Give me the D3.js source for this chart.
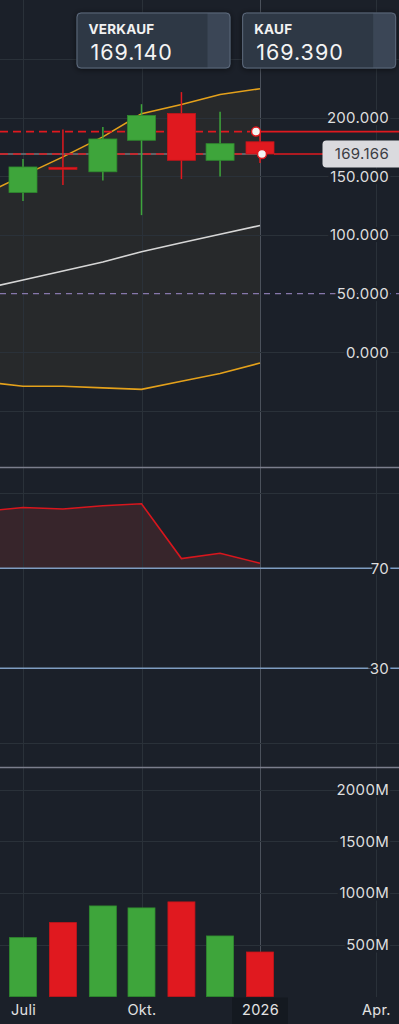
<!DOCTYPE html>
<html>
<head>
<meta charset="utf-8">
<script src="https://cdn.jsdelivr.net/npm/d3@7"></script>
<style>
html, body { margin: 0; padding: 0; background: #1b2029; }
svg { display: block; font-family: Inter, "Noto Sans", sans-serif; }
</style>
</head>
<body>
<svg id="chart" width="399" height="1024"></svg>
<script>
//monthly candles
var months  = ["2025-07-01", "2025-08-01", "2025-09-01", "2025-10-01", "2025-11-01", "2025-12-01", "2026-01-01"];
var opens   = [136.4, 157.8, 154.0, 180.9, 203.7, 163.8, 179.6];
var highs   = [165.0, 190.0, 192.3, 211.7, 222.0, 205.2, 188.3];
var lows    = [129.0, 142.7, 146.6, 117.0, 147.8, 150.0, 161.5];
var closes  = [158.1, 156.6, 182.0, 202.0, 163.8, 178.0, 169.166];
var volumes = [569, 714, 875, 856, 914, 585, 430]; //in M

//bollinger bands + rsi, june is only there for the left edge
var lineMonths = ["2025-06-01", "2025-07-01", "2025-08-01", "2025-09-01", "2025-10-01", "2025-11-01", "2025-12-01", "2026-01-01"];
var bandUpper  = [135.1, 150.7, 166.7, 183.8, 203.5, 211.4, 220.0, 224.9];
var bandMiddle = [54.3, 61.6, 69.3, 77.0, 85.8, 93.4, 100.7, 108.1];
var bandLower  = [-25.2, -29.1, -29.1, -30.4, -31.7, -24.8, -18.2, -9.2];
var rsi        = [92.8, 94.3, 93.7, 95.0, 95.8, 73.9, 76.0, 72.0];

//ticks
var priceGrid   = [-50, 0, 50, 100, 150, 200, 250];
var priceLabels = [0, 50, 100, 150, 200];
var rsiGrid     = [0, 100];
var rsiLevels   = [70, 30];
var volTicks    = [500, 1000, 1500, 2000];
var timeTicks   = ["2025-07-01", "2025-10-01", "2026-01-01", "2026-04-01"];
var timeLabels  = ["Juli", "Okt.", "2026", "Apr."];

//price lines and quotes
var highLine = 188.3;
var lastPrice = 169.166;
var quotes = [["VERKAUF", "169.140"], ["KAUF", "169.390"]];

var bg = "#1b2029";
var gridColor = "#2a3139";
var green = "#3ea53b";
var red = "#e0191f";
var W = 399;

var parse = d3.timeParse("%Y-%m-%d");
var candles = months.map(function(m, i){
	return {date: parse(m), o: opens[i], h: highs[i], l: lows[i], c: closes[i], v: volumes[i]};
});
var lines = lineMonths.map(function(m, i){
	return {date: parse(m), up: bandUpper[i], mid: bandMiddle[i], low: bandLower[i], rsi: rsi[i]};
});

var x = d3.scaleTime()
	.domain([parse("2025-07-01"), parse("2026-01-01")])
	.range([23, 260]);
var y = d3.scaleLinear().domain([-50, 250]).range([410.8, 59.3]);
var yr = d3.scaleLinear().domain([0, 100]).range([743.3, 493.3]);
var yv = d3.scaleLinear().domain([0, 2000]).range([996.5, 789.5]);

var svg = d3.select("#chart");
svg.append("rect").attr("width", W).attr("height", 1024).attr("fill", bg);

var defs = svg.append("defs");
defs.append("clipPath").attr("id", "plot")
	.append("rect").attr("x", 0).attr("y", 0).attr("width", W).attr("height", 1024);
var shadow = defs.append("filter").attr("id", "shadow")
	.attr("x", "-20%").attr("y", "-30%").attr("width", "140%").attr("height", "160%");
shadow.append("feDropShadow").attr("dx", 0).attr("dy", 1).attr("stdDeviation", 3)
	.attr("flood-color", "#000").attr("flood-opacity", 0.55);

var plot = svg.append("g").attr("clip-path", "url(#plot)");

//band fill goes under the grid
plot.append("path")
	.datum(lines)
	.attr("fill", "#27292b")
	.attr("d", d3.area()
		.x(function(d){ return x(d.date) })
		.y0(function(d){ return y(d.low) })
		.y1(function(d){ return y(d.up) }));

//rsi fill above 70
plot.append("path")
	.datum(lines)
	.attr("fill", "#37252b")
	.attr("d", d3.area()
		.x(function(d){ return x(d.date) })
		.y0(yr(70))
		.y1(function(d){ return yr(d.rsi) }));

//vertical grid
plot.selectAll("line.vgrid")
	.data(timeTicks)
  .enter().append("line")
	.attr("class", "vgrid")
	.attr("x1", function(d){ return Math.round(x(parse(d))) + 0.5 })
	.attr("x2", function(d){ return Math.round(x(parse(d))) + 0.5 })
	.attr("y1", 0)
	.attr("y2", 997)
	.attr("stroke", function(d){ return d == "2026-01-01" ? "#4b515b" : gridColor })
	.attr("stroke-width", 1);

//horizontal grids
function hgrid(vals, scale, cls){
	plot.selectAll("line." + cls)
		.data(vals)
	  .enter().append("line")
		.attr("class", cls)
		.attr("x1", 0).attr("x2", W)
		.attr("y1", function(d){ return Math.round(scale(d)) + 0.5 })
		.attr("y2", function(d){ return Math.round(scale(d)) + 0.5 })
		.attr("stroke", gridColor);
}
hgrid(priceGrid.filter(function(d){ return d != 50 }), y, "pgrid");
hgrid(rsiGrid, yr, "rgrid");
hgrid(volTicks, yv, "vgridh");

//dashed 50 line
plot.append("line")
	.attr("x1", 0).attr("x2", W)
	.attr("y1", y(50)).attr("y2", y(50))
	.attr("stroke", "#8677ab")
	.attr("stroke-width", 1.3)
	.attr("stroke-dasharray", "6,5");

//bands
function bandLine(key, color, width){
	plot.append("path")
		.datum(lines)
		.attr("fill", "none")
		.attr("stroke", color)
		.attr("stroke-width", width)
		.attr("d", d3.line()
			.x(function(d){ return x(d.date) })
			.y(function(d){ return y(d[key]) }));
}
bandLine("up", "#e4a11b", 1.6);
bandLine("mid", "#d6d6d6", 1.6);
bandLine("low", "#e4a11b", 1.6);

//price lines (behind candles)
plot.append("line")
	.attr("x1", 0).attr("x2", 260)
	.attr("y1", y(lastPrice)).attr("y2", y(lastPrice))
	.attr("stroke", "#74777c").attr("stroke-width", 1.5);
plot.append("line")
	.attr("x1", 0).attr("x2", 246)
	.attr("y1", y(lastPrice)).attr("y2", y(lastPrice))
	.attr("stroke", red).attr("stroke-width", 1.5)
	.attr("stroke-dasharray", "8,5");
plot.append("line")
	.attr("x1", 0).attr("x2", 250)
	.attr("y1", y(highLine)).attr("y2", y(highLine))
	.attr("stroke", red).attr("stroke-width", 1.6)
	.attr("stroke-dasharray", "8,5");
plot.append("line")
	.attr("x1", 256).attr("x2", W)
	.attr("y1", y(highLine)).attr("y2", y(highLine))
	.attr("stroke", red).attr("stroke-width", 1.6);

//candles
var bodyW = 28;
var cg = plot.selectAll("g.candle")
	.data(candles)
  .enter().append("g")
	.attr("class", "candle");
cg.append("line")
	.attr("x1", function(d){ return x(d.date) })
	.attr("x2", function(d){ return x(d.date) })
	.attr("y1", function(d){ return y(d.h) })
	.attr("y2", function(d){ return y(d.l) })
	.attr("stroke", function(d){ return d.c >= d.o ? green : red })
	.attr("stroke-width", 1.5);
cg.append("rect")
	.attr("x", function(d){ return x(d.date) - bodyW/2 })
	.attr("width", bodyW)
	.attr("y", function(d){ return y(Math.max(d.o, d.c)) })
	.attr("height", function(d){ return Math.max(2, Math.abs(y(d.o) - y(d.c))) })
	.attr("fill", function(d){ return d.c >= d.o ? green : red })
	.attr("stroke", function(d){ return d.c >= d.o ? "#2f8a2e" : "#c5141a" })
	.attr("stroke-width", 0.8);

//rest of the last price line
var last = candles[candles.length - 1];
plot.append("line")
	.attr("x1", x(last.date) + bodyW/2).attr("x2", 323)
	.attr("y1", y(lastPrice)).attr("y2", y(lastPrice))
	.attr("stroke", red).attr("stroke-width", 1.5);

//markers
plot.selectAll("circle.mark")
	.data([[256, highLine], [262, lastPrice]])
  .enter().append("circle")
	.attr("class", "mark")
	.attr("cx", function(d){ return d[0] })
	.attr("cy", function(d){ return y(d[1]) })
	.attr("r", 4.5)
	.attr("fill", "#f4f4f4")
	.attr("stroke", red)
	.attr("stroke-width", 1.5);

//rsi
plot.selectAll("line.level")
	.data(rsiLevels)
  .enter().append("line")
	.attr("class", "level")
	.attr("x1", 0).attr("x2", W)
	.attr("y1", function(d){ return yr(d) })
	.attr("y2", function(d){ return yr(d) })
	.attr("stroke", "#7f9dc2")
	.attr("stroke-width", 1.6);
plot.append("path")
	.datum(lines)
	.attr("fill", "none")
	.attr("stroke", "#d8161d")
	.attr("stroke-width", 1.6)
	.attr("d", d3.line()
		.x(function(d){ return x(d.date) })
		.y(function(d){ return yr(d.rsi) }));

//volume
plot.selectAll("rect.vol")
	.data(candles)
  .enter().append("rect")
	.attr("class", "vol")
	.attr("x", function(d){ return x(d.date) - 13.5 })
	.attr("width", 27)
	.attr("y", function(d){ return yv(d.v) })
	.attr("height", function(d){ return yv(0) - yv(d.v) })
	.attr("fill", function(d){ return d.c >= d.o ? green : red })
	.attr("stroke", function(d){ return d.c >= d.o ? "#2f8a2e" : "#c5141a" })
	.attr("stroke-width", 0.8);

//panel separators
svg.selectAll("line.sep")
	.data([467.5, 767.5])
  .enter().append("line")
	.attr("class", "sep")
	.attr("x1", 0).attr("x2", W)
	.attr("y1", function(d){ return d })
	.attr("y2", function(d){ return d })
	.attr("stroke", "#7b7e8c")
	.attr("stroke-width", 1.5);

//right axes
function rightAxis(scale, vals, fmt){
	var g = svg.append("g")
		.attr("transform", "translate(389,0)")
		.call(d3.axisLeft(scale).tickValues(vals).tickFormat(fmt).tickSize(0).tickPadding(0));
	g.select(".domain").remove();
	g.selectAll("text")
		.attr("fill", "#dedede")
		.attr("font-size", "15px")
		.attr("letter-spacing", "0.3px")
		.attr("font-family", "Inter, 'Noto Sans', sans-serif")
		.attr("stroke", bg)
		.attr("stroke-width", 5)
		.attr("paint-order", "stroke");
}
rightAxis(y, priceLabels, d3.format(".3f"));
rightAxis(yr, rsiLevels, d3.format("d"));
rightAxis(yv, volTicks, function(d){ return d + "M" });

//time axis
svg.append("rect")
	.attr("x", x(parse("2026-01-01")) - 28)
	.attr("y", 997.5)
	.attr("width", 56)
	.attr("height", 27)
	.attr("fill", "#141920");
var tx = svg.append("g")
	.attr("transform", "translate(0,998)")
	.call(d3.axisBottom(x).tickValues(timeTicks.map(parse))
		.tickFormat(function(d, i){ return timeLabels[i] })
		.tickSize(0).tickPadding(0));
tx.select(".domain").remove();
tx.selectAll("text")
	.attr("dy", "17px")
	.attr("fill", "#e2e2e2")
	.attr("font-size", "14.5px")
	.attr("letter-spacing", "0.3px")
	.attr("font-family", "Inter, 'Noto Sans', sans-serif");

//last price label
svg.append("rect")
	.attr("x", 322.5).attr("y", 140.5)
	.attr("width", 82).attr("height", 27)
	.attr("rx", 4)
	.attr("fill", "#dadade");
svg.append("text")
	.attr("x", 389).attr("y", y(lastPrice))
	.attr("dy", "0.36em")
	.attr("text-anchor", "end")
	.attr("fill", "#3a3d44")
	.attr("font-size", "15px")
	.attr("letter-spacing", "0.3px")
	.text(d3.format(".3f")(lastPrice));

//quote buttons
var qx = d3.scaleBand().domain(quotes.map(function(d){ return d[0] })).range([76.5, 399.5]).paddingInner(0.05).paddingOuter(0);
var qg = svg.selectAll("g.quote")
	.data(quotes)
  .enter().append("g")
	.attr("class", "quote")
	.attr("transform", function(d){ return "translate(" + qx(d[0]) + ",12.5)" });
qg.append("rect")
	.attr("width", 154).attr("height", 56).attr("rx", 4)
	.attr("fill", "#2e3845")
	.attr("filter", "url(#shadow)");
qg.append("path")
	.attr("d", "M131,0.5 H150 a3.5,3.5 0 0 1 3.5,3.5 V52 a3.5,3.5 0 0 1 -3.5,3.5 H131 Z")
	.attr("fill", "#3b4656");
qg.append("rect")
	.attr("x", 0.5).attr("y", 0.5)
	.attr("width", 153).attr("height", 55).attr("rx", 4)
	.attr("fill", "none")
	.attr("stroke", "#5d697b");
qg.append("text")
	.attr("x", 12).attr("y", 21)
	.attr("fill", "#f2f2f2")
	.attr("font-size", "13.5px")
	.attr("font-weight", 700)
	.attr("letter-spacing", "0.2px")
	.text(function(d){ return d[0] });
qg.append("text")
	.attr("x", 14).attr("y", 47.5)
	.attr("fill", "#f4f4f4")
	.attr("font-size", "21.5px")
	.attr("letter-spacing", "1px")
	.text(function(d){ return d[1] });
</script>
</body>
</html>
